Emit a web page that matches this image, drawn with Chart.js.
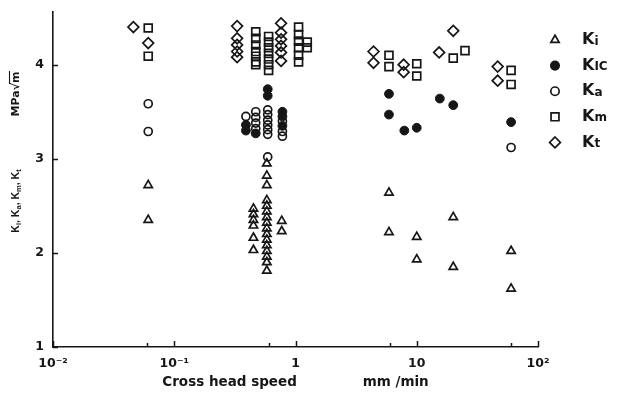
<!DOCTYPE html>
<html>
<head>
<meta charset="utf-8">
<script src="https://cdn.jsdelivr.net/npm/chart.js@4.4.1/dist/chart.umd.min.js"></script>
<style>
  html, body { margin: 0; padding: 0; background: #fff; }
  #wrap { width: 618px; height: 401px; }
</style>
</head>
<body>
<div id="wrap"><canvas id="c" width="618" height="401"></canvas></div>
<script>
// Fracture toughness parameters vs. cross head speed (mm/min)

// Ki — open triangles
const kiX = [0.061, 0.061,
  0.58, 0.58, 0.58, 0.58, 0.58, 0.58, 0.58, 0.58, 0.58, 0.58, 0.58, 0.58, 0.58, 0.58, 0.58, 0.58,
  0.45, 0.45, 0.45, 0.45, 0.45, 0.45,
  0.77, 0.77,
  5.9, 5.9, 10, 10, 20, 20, 60, 60];
const kiY = [2.72, 2.35,
  2.95, 2.82, 2.72, 2.56, 2.50, 2.44, 2.38, 2.32, 2.26, 2.20, 2.14, 2.08, 2.02, 1.96, 1.90, 1.81,
  2.47, 2.41, 2.35, 2.29, 2.16, 2.03,
  2.34, 2.23,
  2.64, 2.22, 2.17, 1.93, 2.38, 1.85, 2.02, 1.62];

// KIC — filled circles
const kicX = [0.59, 0.59, 0.39, 0.39, 0.47, 0.78, 0.78, 0.78, 5.9, 5.9, 7.9, 10, 15.5, 20, 60];
const kicY = [3.74, 3.67, 3.36, 3.30, 3.27, 3.50, 3.45, 3.35, 3.69, 3.47, 3.30, 3.33, 3.64, 3.57, 3.39];

// Ka — open circles
const kaX = [0.061, 0.061, 0.39, 0.47, 0.47, 0.47, 0.47,
  0.59, 0.59, 0.59, 0.59, 0.59, 0.59, 0.59, 0.78, 0.78, 0.78, 60];
const kaY = [3.585, 3.29, 3.45, 3.50, 3.44, 3.38, 3.32,
  3.52, 3.47, 3.41, 3.36, 3.31, 3.26, 3.02, 3.40, 3.29, 3.24, 3.12];

// Km — open squares
const kmX = [0.061, 0.061,
  0.47, 0.47, 0.47, 0.47, 0.47, 0.47, 0.47,
  0.6, 0.6, 0.6, 0.6, 0.6, 0.6, 0.6,
  1.06, 1.06, 1.06, 1.06, 1.06, 1.06,
  1.25, 1.25,
  5.9, 5.9, 10, 10, 20, 25, 60, 60];
const kmY = [4.39, 4.09,
  4.35, 4.28, 4.21, 4.14, 4.09, 4.03, 4.00,
  4.30, 4.24, 4.18, 4.12, 4.06, 4.00, 3.94,
  4.40, 4.32, 4.25, 4.18, 4.10, 4.03,
  4.24, 4.18,
  4.10, 3.98, 4.01, 3.88, 4.07, 4.15, 3.94, 3.79];

// Kt — open diamonds
const ktX = [0.046, 0.061,
  0.33, 0.33, 0.33, 0.33, 0.33,
  0.76, 0.76, 0.76, 0.76, 0.76, 0.76,
  4.4, 4.4, 7.8, 7.8, 15.3, 20, 46.5, 46.5];
const ktY = [4.40, 4.23,
  4.41, 4.28, 4.21, 4.14, 4.08,
  4.44, 4.34, 4.27, 4.20, 4.13, 4.04,
  4.14, 4.02, 4.00, 3.92, 4.13, 4.36, 3.98, 3.83];

// Axis ticks and labels
const xMajorTicks = [0.01, 0.1, 1, 10, 100];
const xTickLabels = ['10\u207B\u00B2', '10\u207B\u00B9', '1', '10', '10\u00B2'];
const xMinorTicks = [0.06, 0.6, 6, 60];
const yTicks = [1, 2, 3, 4];
const xTitle = 'Cross head speed              mm /min';

// Legend entries: main letter + subscript
const legendMain = ['K', 'K', 'K', 'K', 'K'];
const legendSub = ['i', 'IC', 'a', 'm', 't'];

const INK = '#161616';
const FONT = '"DejaVu Sans", sans-serif';
const NARROW = '"Liberation Sans", Arial, sans-serif';

function pts(xs, ys) { return xs.map((x, i) => ({ x: x, y: ys[i] })); }

const datasets = [
  { label: 'Ki', data: pts(kiX, kiY), pointStyle: 'triangle', pointRadius: 4.8,
    backgroundColor: 'rgba(0,0,0,0)', borderColor: INK, pointBorderWidth: 1.7 },
  { label: 'KIC', data: pts(kicX, kicY), pointStyle: 'circle', pointRadius: 4.4,
    backgroundColor: INK, borderColor: INK, pointBorderWidth: 1 },
  { label: 'Ka', data: pts(kaX, kaY), pointStyle: 'circle', pointRadius: 4,
    backgroundColor: 'rgba(0,0,0,0)', borderColor: INK, pointBorderWidth: 1.7 },
  { label: 'Km', data: pts(kmX, kmY), pointStyle: 'rect', pointRadius: 5.6,
    backgroundColor: 'rgba(0,0,0,0)', borderColor: INK, pointBorderWidth: 1.7 },
  { label: 'Kt', data: pts(ktX, ktY), pointStyle: 'rectRot', pointRadius: 5.4,
    backgroundColor: 'rgba(0,0,0,0)', borderColor: INK, pointBorderWidth: 1.7 }
];

// Draw a marker in the same shapes the datasets use
function marker(ctx, style, x, y, r, filled) {
  ctx.beginPath();
  if (style === 'triangle') {
    const a = Math.PI / 2;
    for (let k = 0; k < 3; k++) {
      const ang = -a + k * 2 * Math.PI / 3;
      const px = x + Math.cos(ang) * r, py = y + Math.sin(ang) * r;
      k ? ctx.lineTo(px, py) : ctx.moveTo(px, py);
    }
    ctx.closePath();
  } else if (style === 'circle') {
    ctx.arc(x, y, r, 0, Math.PI * 2);
  } else if (style === 'rect') {
    const s = r * Math.SQRT1_2;
    ctx.rect(x - s, y - s, 2 * s, 2 * s);
  } else if (style === 'rectRot') {
    ctx.moveTo(x, y - r); ctx.lineTo(x + r, y); ctx.lineTo(x, y + r); ctx.lineTo(x - r, y); ctx.closePath();
  }
  if (filled) ctx.fill();
  ctx.stroke();
}

// Draw a run of [text, isSubscript] pieces starting at x (baseline y)
function runText(ctx, parts, x, y, size, subSize, subDrop, family) {
  let cx = x;
  parts.forEach(([t, sub]) => {
    ctx.font = 'bold ' + (sub ? subSize : size) + 'px ' + family;
    ctx.fillText(t, cx, y + (sub ? subDrop : 0));
    cx += ctx.measureText(t).width;
  });
  return cx - x;
}
function runWidth(ctx, parts, size, subSize, family) {
  let w = 0;
  parts.forEach(([t, sub]) => {
    ctx.font = 'bold ' + (sub ? subSize : size) + 'px ' + family;
    w += ctx.measureText(t).width;
  });
  return w;
}

const decorations = {
  id: 'decorations',
  afterDraw(chart) {
    const ctx = chart.ctx;
    const xs = chart.scales.x, ys = chart.scales.y;
    const bottom = chart.chartArea.bottom, left = chart.chartArea.left;
    ctx.save();
    ctx.strokeStyle = INK;
    ctx.fillStyle = INK;
    ctx.lineWidth = 1.5;
    // inward tick marks
    ctx.beginPath();
    xMajorTicks.forEach(v => { const p = Math.round(xs.getPixelForValue(v)) + 0.5; ctx.moveTo(p, bottom); ctx.lineTo(p, bottom - 6); });
    xMinorTicks.forEach(v => { const p = Math.round(xs.getPixelForValue(v)) + 0.5; ctx.moveTo(p, bottom); ctx.lineTo(p, bottom - 4); });
    yTicks.forEach(v => { const p = Math.round(ys.getPixelForValue(v)) + 0.5; ctx.moveTo(left, p); ctx.lineTo(left + 5, p); });
    ctx.stroke();

    // vertical axis title, two blocks
    ctx.textBaseline = 'alphabetic';
    ctx.textAlign = 'left';
    const t1 = [['K', 0], ['i', 1], [', K', 0], ['a', 1], [', K', 0], ['m', 1], [', K', 0], ['t', 1]];
    ctx.save();
    ctx.translate(19, 201);
    ctx.rotate(-Math.PI / 2);
    const w1 = runWidth(ctx, t1, 10.5, 7.5, NARROW);
    runText(ctx, t1, -w1 / 2, 0, 10.5, 7.5, 1.5, NARROW);
    ctx.restore();

    ctx.save();
    ctx.translate(19, 94);
    ctx.rotate(-Math.PI / 2);
    ctx.font = 'bold 11px ' + FONT;
    const a = 'MPa\u221A', b = 'm';
    const wa = ctx.measureText(a).width, wb = ctx.measureText(b).width;
    const sx = -(wa + wb) / 2;
    ctx.fillText(a, sx, 0);
    ctx.fillText(b, sx + wa, 0);
    ctx.lineWidth = 1.1;
    ctx.beginPath();
    ctx.moveTo(sx + wa - 1, -9.5);
    ctx.lineTo(sx + wa + wb + 0.5, -9.5);
    ctx.stroke();
    ctx.restore();

    // legend
    const styles = chart.data.datasets;
    styles.forEach((ds, i) => {
      const y = 40 + i * 25.6;
      ctx.lineWidth = 1.7;
      const filled = ds.backgroundColor === INK;
      marker(ctx, ds.pointStyle, 555, y, ds.pointStyle === 'rect' ? 5.6 : ds.pointStyle === 'rectRot' ? 5.4 : ds.pointStyle === 'triangle' ? 4.8 : 4.2, filled);
      ctx.textBaseline = 'middle';
      runText(ctx, [[legendMain[i], 0], [legendSub[i], 1]], 582, y, 16, 12, 1.5, FONT);
    });
    ctx.restore();
  }
};

new Chart(document.getElementById('c'), {
  type: 'scatter',
  data: { datasets: datasets },
  options: {
    responsive: false,
    animation: false,
    devicePixelRatio: 1,
    layout: { padding: { top: 12, right: 80, left: 0, bottom: 0 } },
    plugins: { legend: { display: false }, tooltip: { enabled: false } },
    scales: {
      x: {
        type: 'logarithmic',
        min: 0.01, max: 100,
        afterBuildTicks: s => { s.ticks = xMajorTicks.map(v => ({ value: v })); },
        afterFit: s => { s.height = 54; },
        grid: { display: false, drawTicks: false },
        border: { display: true, color: INK, width: 1.6 },
        ticks: {
          autoSkip: false, maxRotation: 0, padding: 9, color: INK,
          font: { family: FONT, size: 12.5, weight: 'bold' },
          callback: (v) => { const i = xMajorTicks.indexOf(v); return i >= 0 ? xTickLabels[i] : ''; }
        },
        title: {
          display: true, text: xTitle, color: INK,
          font: { family: FONT, size: 13.5, weight: 'bold' },
          padding: { top: 4, bottom: 10 }
        }
      },
      y: {
        type: 'linear',
        min: 1, max: 4.56,
        afterBuildTicks: s => { s.ticks = yTicks.map(v => ({ value: v })); },
        afterFit: s => { s.width = 53; s.paddingTop = 0; s.paddingBottom = 0; },
        grid: { display: false, drawTicks: false },
        border: { display: true, color: INK, width: 1.6 },
        ticks: {
          padding: 9, color: INK,
          font: { family: FONT, size: 12.5, weight: 'bold' },
          callback: v => String(v)
        }
      }
    }
  },
  plugins: [decorations]
});
</script>
</body>
</html>
